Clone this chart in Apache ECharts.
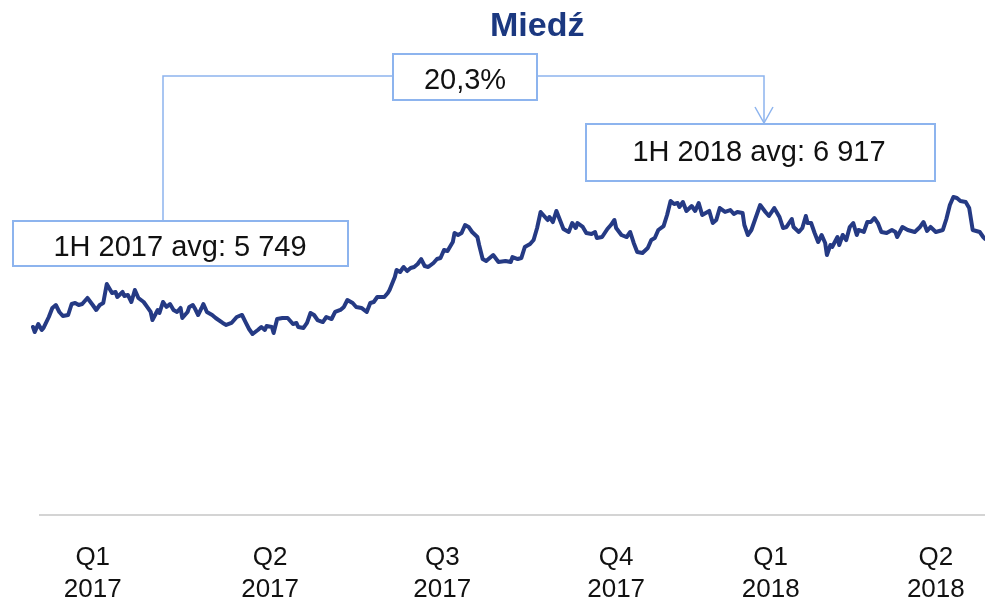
<!DOCTYPE html>
<html>
<head>
<meta charset="utf-8">
<script src="https://cdn.jsdelivr.net/npm/echarts@6/dist/echarts.min.js"></script>
<style>
	html, body { margin: 0; padding: 0; background: #fff; }
	#chart { width: 985px; height: 603px; }
</style>
</head>
<body>
<div id="chart"></div>
<script>
// calendar days since 3 Jan 2017
const days = [0,1,3,5,6,9,11,13,15,17,20,22,24,26,28,31,34,36,38,40,
	42,43,45,47,48,51,52,54,56,58,60,63,65,67,68,71,72,74,76,78,
	80,82,84,85,88,89,91,92,94,96,97,99,102,104,108,110,113,116,119,121,
	123,125,128,130,132,133,136,137,139,142,145,148,150,151,154,156,158,160,162,163,
	165,167,170,172,175,177,179,182,184,187,190,192,194,196,198,200,202,203,206,207,
	209,211,213,215,217,219,221,223,225,228,230,232,234,236,239,240,242,244,246,248,
	250,253,254,256,258,262,265,269,272,273,276,278,280,283,285,287,289,290,293,294,
	296,298,300,302,305,307,309,310,313,315,318,320,321,324,327,329,331,332,335,338,
	340,342,344,347,350,352,354,356,359,361,363,365,367,368,370,372,375,377,379,381,
	383,385,387,389,391,394,397,399,401,404,405,407,409,411,414,417,419,422,425,427,
	429,432,433,436,438,440,441,443,445,447,449,451,452,454,455,458,459,461,463,465,
	467,469,470,473,475,477,479,481,483,486,489,491,492,495,498,500,502,505,507,509,
	511,514,516,518,520,522,524,526,528,531,533,535,537,539,541,542];

// copper price, USD/t
const prices = [5521,5451,5563,5479,5507,5660,5786,5827,5730,5674,5688,5841,5855,5827,5841,5925,5827,5758,5827,5855,
	6120,6134,5995,6009,5939,6009,5953,5967,5869,6036,5925,5869,5800,5730,5618,5758,5716,5869,5800,5841,
	5758,5730,5786,5646,5730,5800,5827,5786,5688,5786,5841,5730,5688,5646,5577,5549,5577,5660,5688,5590,
	5493,5423,5479,5521,5479,5535,5521,5437,5632,5646,5646,5563,5577,5521,5507,5577,5716,5688,5618,5632,
	5590,5660,5632,5730,5758,5800,5897,5855,5800,5786,5730,5855,5869,5939,5939,5939,5995,6036,6218,6315,
	6287,6357,6301,6343,6357,6399,6468,6371,6357,6413,6468,6482,6594,6580,6705,6831,6803,6831,6942,6915,
	6845,6775,6664,6468,6441,6524,6427,6441,6427,6496,6468,6482,6636,6678,6733,6901,7124,7110,7012,7054,
	6984,7138,7012,6887,6845,6970,6901,6970,6915,6831,6817,6845,6761,6775,6887,6942,7012,6901,6803,6775,
	6845,6692,6566,6552,6622,6733,6761,6873,6928,7082,7277,7235,7249,7193,7263,7138,7207,7138,7249,7082,
	7110,7138,6970,7012,7179,7124,7151,7096,7124,7110,6942,6803,6873,7012,7221,7124,7068,7179,7054,6901,
	6915,7026,6915,6845,6901,7068,6970,6970,6831,6705,6803,6692,6524,6664,6636,6775,6664,6803,6733,6915,
	6970,6803,6873,6845,6984,6984,7040,6970,6845,6831,6873,6845,6775,6915,6873,6859,6845,6915,6984,6859,
	6915,6845,6859,6873,7026,7221,7333,7319,7277,7263,7179,6873,6859,6845,6775,6750];

const quarterTicks = [34, 135, 233, 332, 420, 514];
const quarterLabels = ['Q1\n2017', 'Q2\n2017', 'Q3\n2017', 'Q4\n2017', 'Q1\n2018', 'Q2\n2018'];

const titleText = 'Miedź';
const avg2017Text = '1H 2017 avg: 5 749';
const avg2018Text = '1H 2018 avg: 6 917';
const changeText = '20,3%';

const FONT = '"Liberation Sans", Arial, sans-serif';
const BOX_BLUE = '#8db4ee';

const chart = echarts.init(document.getElementById('chart'));

chart.setOption({
	animation: false,
	backgroundColor: '#fff',
	title: {
		text: titleText,
		left: 490,
		top: 10,
		padding: 0,
		textStyle: { fontFamily: FONT, fontSize: 34, fontWeight: 'bold', color: '#1b3880' }
	},
	grid: { left: 33, right: 0, top: 185, bottom: 88, outerBoundsMode: 'none' },
	xAxis: {
		type: 'value',
		min: 0,
		max: 542,
		axisLine: { show: false },
		axisTick: { show: false },
		splitLine: { show: false },
		axisLabel: {
			customValues: quarterTicks,
			formatter: (value) => quarterLabels[quarterTicks.indexOf(value)] || '',
			fontFamily: FONT,
			fontSize: 26,
			lineHeight: 32,
			color: '#111',
			margin: 27
		}
	},
	yAxis: { type: 'value', min: 2900, max: 7500, show: false },
	series: [{
		type: 'line',
		data: days.map((d, i) => [d, prices[i]]),
		showSymbol: false,
		lineStyle: { color: '#253a84', width: 4, join: 'round', cap: 'round' }
	}],
	graphic: [
		// baseline under the chart
		{ type: 'line', shape: { x1: 39, y1: 515, x2: 985, y2: 515 }, style: { stroke: '#c6c6c6', lineWidth: 1.5 } },
		// connector from 2017 box to 2018 box
		{ type: 'polyline', shape: { points: [[163, 221], [163, 76], [393, 76]] }, style: { stroke: BOX_BLUE, lineWidth: 1.5, fill: null } },
		{ type: 'polyline', shape: { points: [[537, 76], [764, 76], [764, 123]] }, style: { stroke: BOX_BLUE, lineWidth: 1.5, fill: null } },
		{ type: 'polyline', shape: { points: [[755, 107], [764, 123], [773, 107]] }, style: { stroke: BOX_BLUE, lineWidth: 1.5, fill: null } },
		// boxes
		{ type: 'rect', shape: { x: 13, y: 221, width: 335, height: 45 }, style: { fill: '#fff', stroke: BOX_BLUE, lineWidth: 2 } },
		{ type: 'rect', shape: { x: 393, y: 54, width: 144, height: 46 }, style: { fill: '#fff', stroke: BOX_BLUE, lineWidth: 2 } },
		{ type: 'rect', shape: { x: 586, y: 124, width: 349, height: 57 }, style: { fill: '#fff', stroke: BOX_BLUE, lineWidth: 2 } },
		{ type: 'text', x: 180, y: 248, style: { text: avg2017Text, font: '29px ' + FONT, fill: '#111', align: 'center', verticalAlign: 'middle' } },
		{ type: 'text', x: 465, y: 81, style: { text: changeText, font: '29px ' + FONT, fill: '#111', align: 'center', verticalAlign: 'middle' } },
		{ type: 'text', x: 759, y: 153, style: { text: avg2018Text, font: '29px ' + FONT, fill: '#111', align: 'center', verticalAlign: 'middle' } }
	]
});
</script>
</body>
</html>
